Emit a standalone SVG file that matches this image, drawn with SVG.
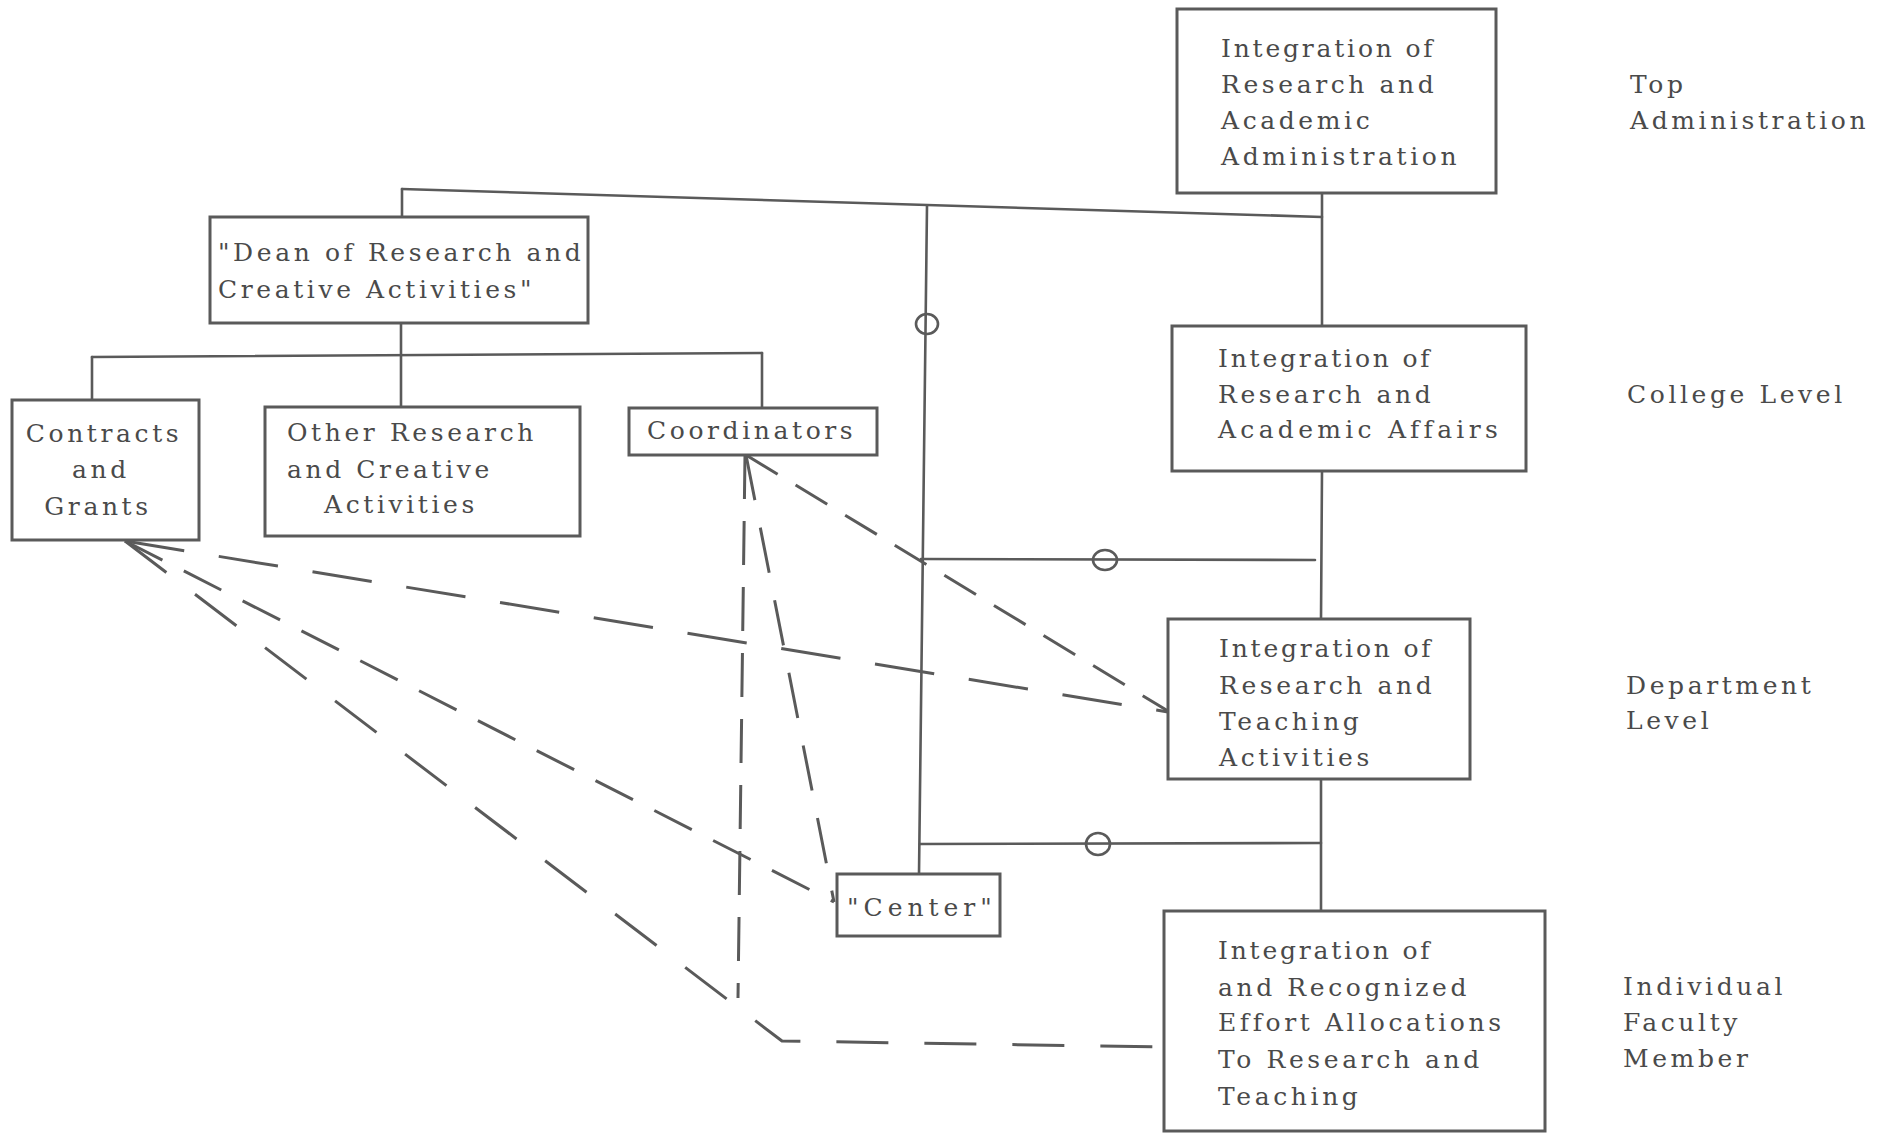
<svg xmlns="http://www.w3.org/2000/svg" width="1891" height="1133" viewBox="0 0 1891 1133">
  <style>
    .box { fill: #ffffff; stroke: #5a5a5a; stroke-width: 3; }
    .ln { fill: none; stroke: #5a5a5a; stroke-width: 2.6; stroke-linecap: round; stroke-linejoin: round; }
    .ring { fill: none; stroke: #5a5a5a; stroke-width: 2.6; }
    .dsh { fill: none; stroke: #5a5a5a; stroke-width: 3; stroke-linecap: butt; stroke-linejoin: round; }
    .t { font-family: "DejaVu Serif", "Liberation Serif", serif; font-size: 25px; fill: #4a4a4a; letter-spacing: 3.6px; }
    .tight { letter-spacing: 2.8px; }
    .wide { letter-spacing: 4.3px; }
    .mid { text-anchor: middle; }
  </style>
  <rect x="0" y="0" width="1891" height="1133" fill="#ffffff"/>

  <!-- connectors -->
  <g id="connectors">
    <!-- solid reporting lines -->
    <path class="ln" d="M402,189 L1322,217"/>
    <path class="ln" d="M402,189 L402,217"/>
    <path class="ln" d="M1322,193 L1322,326"/>
    <path class="ln" d="M1322,471 L1321,619"/>
    <path class="ln" d="M1321,779 L1321,911"/>
    <path class="ln" d="M927,206 L919,874"/>
    <path class="ln" d="M921,559 L1315,560"/>
    <path class="ln" d="M920,844 L1321,843"/>
    <path class="ln" d="M401,323 L401,407"/>
    <path class="ln" d="M92,357 L762,353"/>
    <path class="ln" d="M92,357 L92,400"/>
    <path class="ln" d="M762,353 L762,408"/>
    <!-- small rings on the liaison lines -->
    <ellipse class="ring" cx="927" cy="324" rx="11" ry="10"/>
    <ellipse class="ring" cx="1105" cy="560" rx="12" ry="10"/>
    <ellipse class="ring" cx="1098" cy="844" rx="12" ry="11"/>
    <!-- dashed coordination lines -->
    <path class="dsh" d="M125,541 L1168,712" stroke-dasharray="60 35"/>
    <path class="dsh" d="M125,541 L834,902" stroke-dasharray="42 24"/>
    <path class="dsh" d="M125,541 L782,1041 L1164,1047" stroke-dasharray="52 36"/>
    <path class="dsh" d="M746,455 L1168,711" stroke-dasharray="37 21"/>
    <path class="dsh" d="M746,455 L834,902" stroke-dasharray="46 28"/>
    <path class="dsh" d="M745,455 L738,998" stroke-dasharray="44 22"/>
  </g>

  <!-- nodes -->
  <g id="top-admin">
    <rect class="box" x="1177" y="9" width="319" height="184"/>
    <text class="t tight" x="1221" y="57">Integration of</text>
    <text class="t" x="1221" y="93">Research and</text>
    <text class="t" x="1221" y="129">Academic</text>
    <text class="t" x="1221" y="165">Administration</text>
  </g>
  <g id="college">
    <rect class="box" x="1172" y="326" width="354" height="145"/>
    <text class="t tight" x="1218" y="367">Integration of</text>
    <text class="t" x="1218" y="403">Research and</text>
    <text class="t wide" x="1218" y="438">Academic Affairs</text>
  </g>
  <g id="department">
    <rect class="box" x="1168" y="619" width="302" height="160"/>
    <text class="t tight" x="1219" y="657">Integration of</text>
    <text class="t" x="1219" y="694">Research and</text>
    <text class="t" x="1219" y="730">Teaching</text>
    <text class="t" x="1219" y="766">Activities</text>
  </g>
  <g id="faculty">
    <rect class="box" x="1164" y="911" width="381" height="220"/>
    <text class="t tight" x="1218" y="959">Integration of</text>
    <text class="t" x="1218" y="996">and Recognized</text>
    <text class="t" x="1218" y="1031">Effort Allocations</text>
    <text class="t" x="1218" y="1068">To Research and</text>
    <text class="t" x="1218" y="1105">Teaching</text>
  </g>
  <g id="dean">
    <rect class="box" x="210" y="217" width="378" height="106"/>
    <text class="t" x="218" y="261">"Dean of Research and</text>
    <text class="t" x="218" y="298">Creative Activities"</text>
  </g>
  <g id="contracts">
    <rect class="box" x="12" y="400" width="187" height="140"/>
    <text class="t mid" x="104" y="442">Contracts</text>
    <text class="t mid" x="101" y="478">and</text>
    <text class="t mid" x="98" y="515">Grants</text>
  </g>
  <g id="other-research">
    <rect class="box" x="265" y="407" width="315" height="129"/>
    <text class="t" x="287" y="441">Other Research</text>
    <text class="t" x="287" y="478">and Creative</text>
    <text class="t" x="324" y="513">Activities</text>
  </g>
  <g id="coordinators">
    <rect class="box" x="629" y="408" width="248" height="47"/>
    <text class="t" x="647" y="439">Coordinators</text>
  </g>
  <g id="center">
    <rect class="box" x="837" y="874" width="163" height="62"/>
    <text class="t" x="847" y="916" style="letter-spacing:5px">"Center"</text>
  </g>

  <!-- level labels -->
  <g id="levels">
    <text class="t" x="1630" y="93">Top</text>
    <text class="t" x="1630" y="129">Administration</text>
    <text class="t" x="1627" y="403">College Level</text>
    <text class="t" x="1626" y="694">Department</text>
    <text class="t" x="1626" y="729">Level</text>
    <text class="t" x="1623" y="995">Individual</text>
    <text class="t" x="1623" y="1031">Faculty</text>
    <text class="t" x="1623" y="1067">Member</text>
  </g>
</svg>
